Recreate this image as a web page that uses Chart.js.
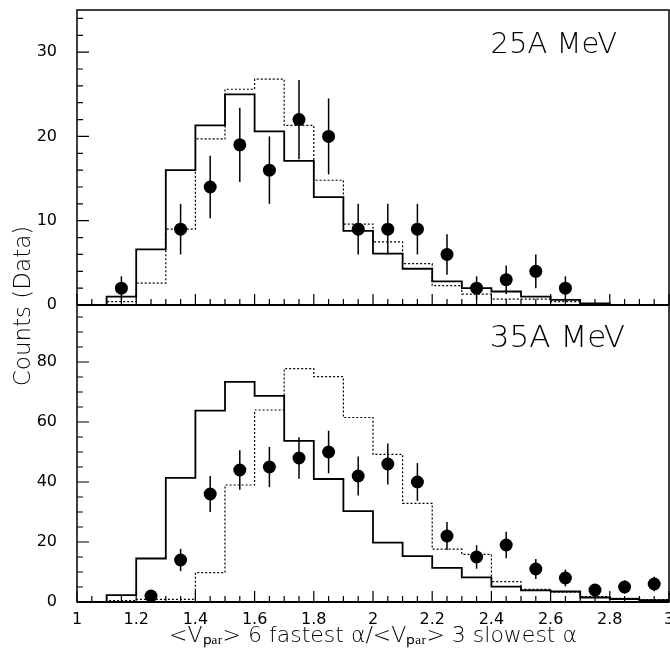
<!DOCTYPE html>
<html>
<head>
<meta charset="utf-8">
<script src="https://cdn.jsdelivr.net/npm/chart.js@4.4.0/dist/chart.umd.min.js"></script>
<style>
  html, body { margin: 0; padding: 0; background: #fff; overflow: hidden; }
  #wrap { position: relative; width: 670px; height: 651px; overflow: hidden; }
  #chart { position: absolute; left: 0; top: 0; }
</style>
</head>
<body>
<div id="wrap"><canvas id="chart" width="690" height="651"></canvas></div>
<script>
// histogram bin edges (bin i spans binEdges[i] .. binEdges[i + 1])
const binEdges = [1.1, 1.2, 1.3, 1.4, 1.5, 1.6, 1.7, 1.8, 1.9, 2.0, 2.1, 2.2, 2.3, 2.4, 2.5, 2.6, 2.7, 2.8, 2.9, 3.0];

// 25A MeV panel
const solid25 = [1.0, 6.6, 16.0, 21.3, 25.0, 20.6, 17.1, 12.8, 8.8, 6.1, 4.3, 2.8, 2.0, 1.6, 1.0, 0.6, 0.2, 0, 0];
const dotted25 = [0.4, 2.6, 9.0, 19.7, 25.6, 26.8, 21.3, 14.8, 9.6, 7.5, 4.9, 2.3, 1.3, 0.7, 0.7, 0.4, 0, 0, 0];
const data25X = [1.15, 1.35, 1.45, 1.55, 1.65, 1.75, 1.85, 1.95, 2.05, 2.15, 2.25, 2.35, 2.45, 2.55, 2.65];
const data25Y = [2, 9, 14, 19, 16, 22, 20, 9, 9, 9, 6, 2, 3, 4, 2];
const data25Err = [1.4, 3.0, 3.7, 4.4, 4.0, 4.7, 4.5, 3.0, 3.0, 3.0, 2.4, 1.4, 1.7, 2.0, 1.4];

// 35A MeV panel
const solid35 = [2.3, 14.5, 41.4, 63.8, 73.4, 68.7, 53.7, 41.0, 30.3, 19.8, 15.3, 11.4, 8.2, 5.1, 3.9, 3.5, 1.5, 1.0, 0.6];
const dotted35 = [0.5, 0.9, 0.9, 9.8, 39.0, 64.0, 77.8, 75.1, 61.5, 49.2, 32.9, 17.6, 15.9, 6.8, 4.2, 3.3, 1.8, 1.2, 0.8];
const data35X = [1.25, 1.35, 1.45, 1.55, 1.65, 1.75, 1.85, 1.95, 2.05, 2.15, 2.25, 2.35, 2.45, 2.55, 2.65, 2.75, 2.85, 2.95];
const data35Y = [2, 14, 36, 44, 45, 48, 50, 42, 46, 40, 22, 15, 19, 11, 8, 4, 5, 6];
const data35Err = [1.4, 3.7, 6.0, 6.6, 6.7, 6.9, 7.1, 6.5, 6.8, 6.3, 4.7, 3.9, 4.4, 3.3, 2.8, 2.0, 2.2, 2.4];

// axes
const xTicks = [1, 1.2, 1.4, 1.6, 1.8, 2, 2.2, 2.4, 2.6, 2.8, 3];
const xTickLabels = ['1', '1.2', '1.4', '1.6', '1.8', '2', '2.2', '2.4', '2.6', '2.8', '3'];
const upperTicks = [0, 10, 20, 30];
const lowerTicks = [0, 20, 40, 60, 80];
const panelLabels = ['25A MeV', '35A MeV'];
const xTitle = '<V\u209A\u2090\u1D63> 6 fastest \u03B1/<V\u209A\u2090\u1D63> 3 slowest \u03B1';
const yTitle = 'Counts (Data)';

const FONT = 'DejaVu Sans';

function histogram(values) {
    const pts = [{ x: binEdges[0], y: 0 }];
    values.forEach((v, i) => pts.push({ x: binEdges[i], y: v }));
    pts.push({ x: binEdges[binEdges.length - 1], y: 0 });
    return pts;
}

function points(xs, ys) {
    return xs.map((x, i) => ({ x: x, y: ys[i] }));
}

function histDataset(values, axis, dotted) {
    return {
        data: histogram(values),
        yAxisID: axis,
        showLine: true,
        stepped: true,
        borderColor: '#000',
        borderWidth: dotted ? 1.2 : 1.8,
        borderDash: dotted ? [2, 2] : [],
        pointRadius: 0,
        fill: false
    };
}

function pointDataset(xs, ys, axis) {
    return {
        data: points(xs, ys),
        yAxisID: axis,
        showLine: false,
        pointRadius: 6.5,
        pointBackgroundColor: '#000',
        pointBorderColor: '#000',
        pointBorderWidth: 0
    };
}

const errorBars = [
    { axis: 'yUpper', xs: data25X, ys: data25Y, err: data25Err },
    { axis: 'yLower', xs: data35X, ys: data35Y, err: data35Err }
];

const errorBarPlugin = {
    id: 'errorBars',
    afterDatasetsDraw(chart) {
        const ctx = chart.ctx;
        const xs = chart.scales.x;
        ctx.save();
        ctx.strokeStyle = '#000';
        ctx.lineWidth = 1.5;
        errorBars.forEach(set => {
            const ys = chart.scales[set.axis];
            set.xs.forEach((x, i) => {
                const px = xs.getPixelForValue(x);
                ctx.beginPath();
                ctx.moveTo(px, ys.getPixelForValue(set.ys[i] - set.err[i]));
                ctx.lineTo(px, ys.getPixelForValue(set.ys[i] + set.err[i]));
                ctx.stroke();
            });
        });
        ctx.restore();
    }
};

const framePlugin = {
    id: 'frame',
    afterDraw(chart) {
        const ctx = chart.ctx;
        const a = chart.chartArea;
        const xs = chart.scales.x;
        const yU = chart.scales.yUpper;
        const yL = chart.scales.yLower;
        const mid = yU.getPixelForValue(0);

        ctx.save();
        ctx.strokeStyle = '#000';
        ctx.lineWidth = 1.5;
        ctx.strokeRect(a.left, a.top, a.right - a.left, a.bottom - a.top);
        ctx.lineWidth = 2;
        ctx.beginPath();
        ctx.moveTo(a.left, mid);
        ctx.lineTo(a.right, mid);
        ctx.moveTo(a.left, a.bottom);
        ctx.lineTo(a.right, a.bottom);
        ctx.stroke();

        // inward x ticks on both panel bottoms
        ctx.lineWidth = 1.2;
        ctx.beginPath();
        for (let k = 0; k <= 40; k++) {
            const px = xs.getPixelForValue(1 + k * 0.05);
            const len = k % 4 === 0 ? 11 : 6;
            [mid, a.bottom].forEach(base => {
                ctx.moveTo(px, base);
                ctx.lineTo(px, base - len);
            });
        }
        // inward y ticks
        for (let v = 0; v <= 34; v += 2) {
            const py = yU.getPixelForValue(v);
            ctx.moveTo(a.left, py);
            ctx.lineTo(a.left + (v % 10 === 0 ? 12 : 6), py);
        }
        for (let v = 0; v <= 95; v += 5) {
            const py = yL.getPixelForValue(v);
            ctx.moveTo(a.left, py);
            ctx.lineTo(a.left + (v % 20 === 0 ? 12 : 6), py);
        }
        ctx.stroke();

        // panel labels
        ctx.fillStyle = '#000';
        ctx.textAlign = 'right';
        ctx.textBaseline = 'alphabetic';
        ctx.font = '200 29px "' + FONT + '"';
        ctx.fillText(panelLabels[0], a.right - 52, yU.top + 43);
        ctx.font = '200 31px "' + FONT + '"';
        ctx.fillText(panelLabels[1], a.right - 44, yL.top + 42);
        ctx.restore();
    }
};

function yAxis(max, ticks, weight) {
    return {
        type: 'linear',
        position: 'left',
        stack: 'panels',
        stackWeight: weight,
        min: 0,
        max: max,
        afterBuildTicks: s => { s.ticks = ticks.map(v => ({ value: v })); },
        afterFit: s => {
            s.width = 47;
            s.paddingTop = 0;
            s.paddingBottom = 0;
        },
        grid: { display: false, drawTicks: false },
        border: { display: false },
        ticks: {
            padding: 20,
            color: '#000',
            font: { family: FONT, size: 16 }
        }
    };
}

new Chart(document.getElementById('chart'), {
    type: 'scatter',
    data: {
        datasets: [
            histDataset(solid25, 'yUpper', false),
            histDataset(dotted25, 'yUpper', true),
            pointDataset(data25X, data25Y, 'yUpper'),
            histDataset(solid35, 'yLower', false),
            histDataset(dotted35, 'yLower', true),
            pointDataset(data35X, data35Y, 'yLower')
        ]
    },
    options: {
        responsive: false,
        animation: false,
        devicePixelRatio: 1,
        layout: { padding: { top: 10, right: 21, left: 0, bottom: 0 } },
        plugins: {
            legend: { display: false },
            tooltip: { enabled: false }
        },
        scales: {
            x: {
                type: 'linear',
                min: 1,
                max: 3,
                afterBuildTicks: s => { s.ticks = xTicks.map(v => ({ value: v })); },
                afterFit: s => { s.height = 49; },
                grid: { display: false, drawTicks: false },
                border: { display: false },
                ticks: {
                    autoSkip: false,
                    maxRotation: 0,
                    padding: 8,
                    color: '#000',
                    font: { family: FONT, size: 16 },
                    callback: (v, i) => xTickLabels[i]
                },
                title: {
                    display: true,
                    text: xTitle,
                    color: '#000',
                    font: { family: FONT, size: 22, weight: '200' },
                    padding: { top: 0, bottom: 2 }
                }
            },
            yLower: yAxis(99, lowerTicks, 297),
            yUpper: yAxis(35, upperTicks, 295),
            yTitle: {
                type: 'linear',
                position: 'left',
                weight: 10,
                afterFit: s => { s.width = 30; },
                grid: { display: false, drawTicks: false },
                border: { display: false },
                ticks: { display: false },
                title: {
                    display: true,
                    text: yTitle,
                    color: '#000',
                    font: { family: FONT, size: 23, weight: '200' },
                    padding: { top: 10, bottom: 0 }
                }
            }
        }
    },
    plugins: [errorBarPlugin, framePlugin]
});
</script>
</body>
</html>
